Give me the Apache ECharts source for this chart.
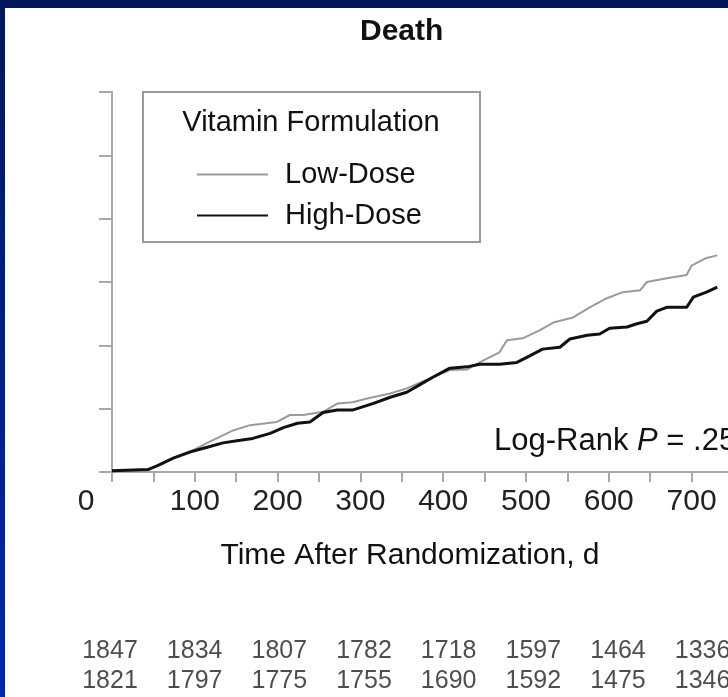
<!DOCTYPE html>
<html>
<head>
<meta charset="utf-8">
<script src="https://cdn.jsdelivr.net/npm/echarts@6.0.0/dist/echarts.min.js"></script>
<style>
  html, body { margin: 0; padding: 0; background: #fff; }
  #main { width: 728px; height: 697px; }
</style>
</head>
<body>
<div id="main"></div>
<script>
// cumulative incidence curves (days, %)
var lowDays = [0, 44, 55, 74, 95, 115, 147, 167, 199, 215, 231, 255, 272, 291, 308, 336, 356, 388, 408, 429, 448, 468, 477, 496, 517, 533, 557, 577, 597, 617, 638, 646, 670, 694, 700, 718, 731];
var lowValues = [0.1, 0.2, 0.5, 1.1, 1.6, 2.3, 3.3, 3.7, 3.95, 4.5, 4.5, 4.75, 5.4, 5.5, 5.8, 6.2, 6.6, 7.5, 8.05, 8.1, 8.8, 9.45, 10.4, 10.55, 11.2, 11.8, 12.2, 13.0, 13.7, 14.2, 14.35, 15.0, 15.3, 15.55, 16.3, 16.9, 17.1];
var highDays = [0, 44, 55, 74, 95, 115, 134, 155, 170, 191, 207, 224, 239, 255, 272, 291, 296, 315, 336, 356, 372, 388, 408, 429, 444, 468, 489, 501, 520, 541, 553, 574, 589, 601, 622, 634, 646, 658, 670, 694, 702, 718, 731];
var highValues = [0.1, 0.2, 0.5, 1.1, 1.6, 1.95, 2.3, 2.5, 2.65, 3.05, 3.5, 3.85, 3.95, 4.7, 4.9, 4.9, 5.0, 5.4, 5.9, 6.3, 6.9, 7.5, 8.2, 8.3, 8.5, 8.5, 8.65, 9.05, 9.7, 9.85, 10.5, 10.8, 10.9, 11.35, 11.45, 11.7, 11.9, 12.7, 13.0, 13.0, 13.8, 14.2, 14.6];

// number at risk table
var atRiskDays = [0, 100, 200, 300, 400, 500, 600, 700];
var lowAtRisk = [1847, 1834, 1807, 1782, 1718, 1597, 1464, 1336];
var highAtRisk = [1821, 1797, 1775, 1755, 1690, 1592, 1475, 1346];

var FONT = '"Liberation Sans", Arial, Helvetica, sans-serif';
var AXIS_GRAY = '#a8a8a8';

function pairs(xs, ys) {
  return xs.map(function (x, i) { return [x, ys[i]]; });
}

var tableData = [];
atRiskDays.forEach(function (d, i) {
  tableData.push([d, 'Low-Dose', lowAtRisk[i]]);
  tableData.push([d, 'High-Dose', highAtRisk[i]]);
});

var myChart = echarts.init(document.getElementById('main'));

var option = {
  backgroundColor: '#fff',
  animation: false,
  textStyle: { fontFamily: FONT },
  title: {
    text: 'Death',
    left: 355,
    top: 12,
    textStyle: { fontSize: 30, fontWeight: 'bold', color: '#111', fontFamily: FONT }
  },
  legend: {
    orient: 'vertical',
    left: 192,
    top: 155,
    icon: 'rect',
    itemWidth: 71,
    itemHeight: 2,
    itemGap: 12,
    textStyle: { fontSize: 29, color: '#111', fontFamily: FONT, padding: [0, 0, 0, 12] },
    data: ['Low-Dose', 'High-Dose']
  },
  grid: [
    { left: 112, top: 92, right: 0, height: 380 },
    { left: 110, top: 636, right: 0, height: 60 }
  ],
  xAxis: [
    {
      gridIndex: 0,
      type: 'value',
      min: 0,
      max: 744,
      interval: 50,
      name: 'Time After Randomization, d',
      nameLocation: 'middle',
      nameGap: 69,
      nameTextStyle: { fontSize: 30, color: '#111', fontFamily: FONT, padding: [0, 20, 0, 0] },
      axisLine: { lineStyle: { color: AXIS_GRAY, width: 2 } },
      axisTick: { length: 10, lineStyle: { color: AXIS_GRAY, width: 2 } },
      splitLine: { show: false },
      axisLabel: {
        margin: 15,
        fontSize: 30,
        color: '#222',
        fontFamily: FONT,
        showMaxLabel: false,
        formatter: function (v) {
          if (v % 100 !== 0) return '';
          return v === 0 ? '{z|0}' : String(v);
        },
        rich: {
          z: { fontSize: 30, color: '#222', fontFamily: FONT, padding: [0, 52, 0, 0] }
        }
      }
    },
    {
      gridIndex: 1,
      type: 'value',
      min: 0,
      max: 730,
      show: false
    }
  ],
  yAxis: [
    {
      gridIndex: 0,
      type: 'value',
      min: 0,
      max: 30,
      interval: 5,
      axisLine: { show: true, lineStyle: { color: AXIS_GRAY, width: 2 } },
      axisTick: { show: true, length: 13, lineStyle: { color: AXIS_GRAY, width: 2 } },
      axisLabel: { show: false },
      splitLine: { show: false }
    },
    {
      gridIndex: 1,
      type: 'category',
      inverse: true,
      data: ['Low-Dose', 'High-Dose'],
      show: false
    }
  ],
  graphic: [
    { type: 'rect', shape: { x: 0, y: 0, width: 728, height: 8 }, style: { fill: '#00185a' }, silent: true },
    {
      type: 'rect', shape: { x: 0, y: 0, width: 5, height: 697 }, silent: true,
      style: {
        fill: new echarts.graphic.LinearGradient(0, 0, 0, 1, [
          { offset: 0, color: '#00185a' },
          { offset: 1, color: '#0028a8' }
        ])
      }
    },
    {
      type: 'rect', shape: { x: 143, y: 92, width: 337, height: 150 }, z: 1,
      style: { fill: 'none', stroke: '#9a9a9a', lineWidth: 2 }
    },
    {
      type: 'text', x: 311, y: 123,
      style: { text: 'Vitamin Formulation', fontSize: 29, fill: '#111', fontFamily: FONT, align: 'center', verticalAlign: 'middle' }
    },
    {
      type: 'text', x: 494, y: 441,
      style: {
        text: 'Log-Rank {i|P} = .25',
        fontSize: 31, fill: '#111', fontFamily: FONT, verticalAlign: 'middle',
        rich: { i: { fontSize: 31, fontStyle: 'italic', fill: '#111', fontFamily: FONT } }
      }
    }
  ],
  series: [
    {
      name: 'Low-Dose',
      type: 'line',
      xAxisIndex: 0,
      yAxisIndex: 0,
      symbol: 'none',
      color: '#9a9a9a',
      lineStyle: { color: '#9a9a9a', width: 2 },
      data: pairs(lowDays, lowValues),
      z: 2
    },
    {
      name: 'High-Dose',
      type: 'line',
      xAxisIndex: 0,
      yAxisIndex: 0,
      symbol: 'none',
      color: '#111',
      lineStyle: { color: '#111', width: 3 },
      data: pairs(highDays, highValues),
      z: 3
    },
    {
      name: 'atRisk',
      type: 'scatter',
      xAxisIndex: 1,
      yAxisIndex: 1,
      symbolSize: 0,
      data: tableData,
      label: {
        show: true,
        position: 'inside',
        fontSize: 25,
        color: '#222',
        fontFamily: FONT,
        formatter: function (p) { return String(p.value[2]); }
      }
    }
  ]
};

myChart.setOption(option);
</script>
</body>
</html>
